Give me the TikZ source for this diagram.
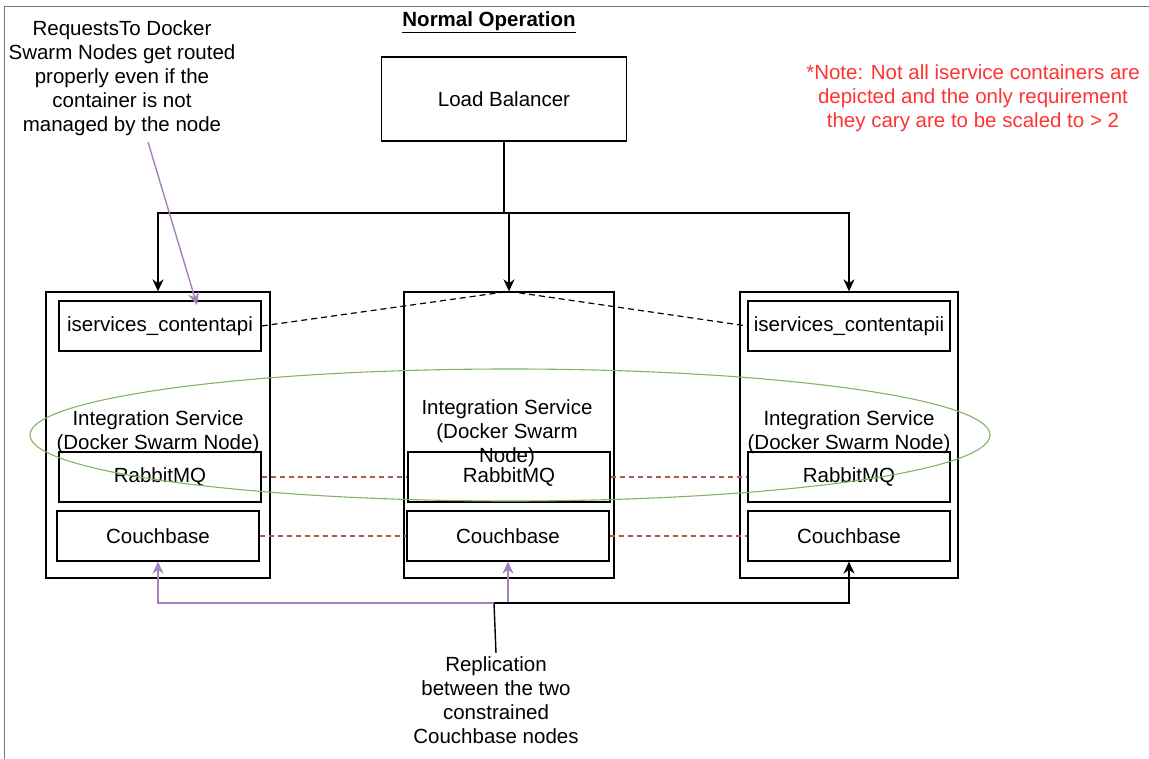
\documentclass[tikz,border=0pt]{standalone}
\usepackage{fontspec}
\setmainfont{Liberation Sans}
\usetikzlibrary{arrows.meta,shapes.geometric}
\definecolor{red}{RGB}{184,84,80}
\definecolor{green}{RGB}{130,179,102}
\definecolor{purple}{RGB}{166,128,184}
\definecolor{notered}{RGB}{255,51,51}
\definecolor{gray}{RGB}{120,120,120}
\tikzset{
    %Define standard arrow tip
    >={Stealth[length=12pt,width=11pt]},
    box/.style={draw, line width=1.3pt, inner sep=2pt},
    part/.style={box, minimum width=202pt, minimum height=50pt},
    swarm/.style={draw, line width=1.3pt, minimum height=286pt},
    link/.style={line width=1.4pt},
    cross/.style={red, dash pattern=on 5pt off 4pt, line width=1.2pt}
}

\begin{document}
\begin{tikzpicture}[x=1pt, y=-1pt, font=\fontsize{20.5}{24}\selectfont]
    \useasboundingbox (0,0) rectangle (1149,759);
    \draw[gray] (1149,6) -- (4,6) -- (4,759);

    \node (title) at (489,22) {\underline{\textbf{Normal Operation}}};
    \node[box, minimum width=245pt, minimum height=84pt] (lb) at (504,99) {Load Balancer};

    \node[swarm, minimum width=224pt] (swarmL) at (158,435) {};
    \node[swarm, minimum width=210pt] (swarmM) at (509,435) {};
    \node[swarm, minimum width=218pt] (swarmR) at (849,435) {};

    \node[part] (apiL) at (160,326) {iservices\_contentapi};
    \node[part] (apiR) at (849,326) {iservices\_contentapii};
    \node[part] (rabbitL) at (160,477) {RabbitMQ};
    \node[part] (rabbitM) at (509,477) {RabbitMQ};
    \node[part] (rabbitR) at (849,477) {RabbitMQ};
    \node[part] (couchL) at (158,536) {Couchbase};
    \node[part] (couchM) at (508,536) {Couchbase};
    \node[part] (couchR) at (849,536) {Couchbase};

    \node[align=center] (isL) at (158,432) {Integration Service\\(Docker Swarm Node)};
    \node[align=center] (isM) at (507,433) {Integration Service\\(Docker Swarm\\Node)};
    \node[align=center] (isR) at (849,432) {Integration Service\\(Docker Swarm Node)};

    % load balancer fan out
    \coordinate (split) at (504,213);
    \draw[line width=2.4pt] (lb.south) -- (split);
    \draw[link, ->] (split) -| (swarmL.north);
    \draw[link, ->] (split) -| (swarmM.north);
    \draw[link, ->] (split) -| (swarmR.north);

    \draw[dash pattern=on 6pt off 4pt, line width=1.2pt] (apiL.east) -- (swarmM.north) -- (apiR.west);
    \draw[cross] (rabbitL) -- (rabbitM);
    \draw[cross] (rabbitM) -- (rabbitR);
    \draw[cross] (couchL) -- (couchM);
    \draw[cross] (couchM) -- (couchR);

    \node[draw=green, line width=1.1pt, ellipse, minimum width=960pt, minimum height=132pt, inner sep=0pt] (ring) at (510,435) {};

    % replication
    \node[align=center] (replabel) at (496,700) {Replication\\between the two\\constrained\\Couchbase nodes};
    \coordinate (rep) at (494,603);
    \draw[link] (replabel.north) -- (rep);
    \draw[link, purple, ->] (couchM.south |- rep) -- (couchM.south);
    \draw[link, purple, ->] (couchM.south |- rep) -| (couchL.south);
    \draw[link, ->] (rep) -| (couchR.south);

    % notes
    \node[align=center] (reqnote) at (122,78) {RequestsTo Docker\\Swarm Nodes get routed\\properly even if the\\container is not\\managed by the node};
    \coordinate (reqtail) at (148,142);
    \coordinate (reqhead) at (197,305);
    \draw[link, purple, ->] (reqtail) -- (reqhead);
    \node[align=center, text=notered] (note) at (973,98) {*Note: Not all iservice containers are\\depicted and the only requirement\\they cary are to be scaled to > 2};
\end{tikzpicture}
\end{document}
